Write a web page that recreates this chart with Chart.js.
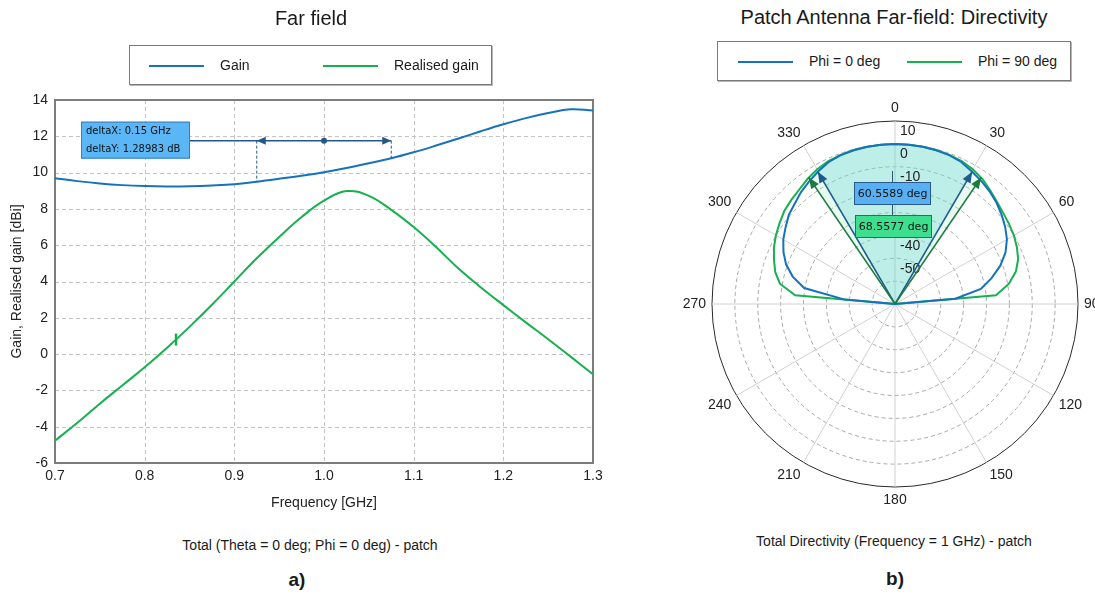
<!DOCTYPE html>
<html>

<head>
    <meta charset="utf-8">
    <title>Far field</title>
    <script src="https://cdn.jsdelivr.net/npm/chart.js"></script>
    <style>
        body {
            margin: 0;
            width: 1095px;
            height: 596px;
            position: relative;
            overflow: hidden;
            background: #fff;
            font-family: 'Liberation Sans', Arial, sans-serif;
            color: #1a1a1a;
        }

        canvas { position: absolute; }

        .title {
            position: absolute;
            width: 400px;
            text-align: center;
            font-size: 20px;
            line-height: 24px;
        }

        .legend {
            position: absolute;
            height: 40px;
            box-sizing: border-box;
            border: 1px solid #7a7a7a;
            box-shadow: 1px 1px 0 #b5b5b5;
            background: #fff;
            font-size: 14px;
        }

        .legend span { position: absolute; top: 11px; line-height: 16px; white-space: nowrap; }
        .legend i { position: absolute; top: 19px; width: 55px; height: 2px; }

        .caption {
            position: absolute;
            width: 500px;
            text-align: center;
            font-size: 14px;
            line-height: 18px;
        }

        .tag {
            position: absolute;
            width: 60px;
            text-align: center;
            font-size: 19px;
            font-weight: bold;
            line-height: 22px;
        }
    </style>
</head>

<body>
    <canvas id="gainChart" width="610" height="520" style="left:0;top:0"></canvas>
    <canvas id="polarChart" width="425" height="430" style="left:670px;top:90px"></canvas>

    <div class="title" style="left:111px;top:6px">Far field</div>
    <div class="legend" style="left:129px;top:45px;width:363px">
        <i style="left:19px;background:#1672bd"></i><span style="left:90px">Gain</span>
        <i style="left:193px;background:#17b04f"></i><span style="left:264px">Realised gain</span>
    </div>
    <div class="caption" style="left:60px;top:536px">Total (Theta = 0 deg; Phi = 0 deg) - patch</div>
    <div class="tag" style="left:267px;top:569px">a)</div>

    <div class="title" style="left:694px;top:5px">Patch Antenna Far-field: Directivity</div>
    <div class="legend" style="left:717px;top:41px;width:354px">
        <i style="left:20px;background:#1672bd"></i><span style="left:91px">Phi = 0 deg</span>
        <i style="left:189px;background:#17b04f"></i><span style="left:260px">Phi = 90 deg</span>
    </div>
    <div class="caption" style="left:644px;top:532px">Total Directivity (Frequency = 1 GHz) - patch</div>
    <div class="tag" style="left:865px;top:568px">b)</div>

    <script type="text/javascript">
        // gain sweep (GHz, dBi)
        const freq = [
            0.700, 0.725, 0.750, 0.775, 0.800, 0.825, 0.850, 0.875, 0.900, 0.925, 0.950, 0.975, 1.000,
            1.025, 1.050, 1.075, 1.100, 1.125, 1.150, 1.175, 1.200, 1.225, 1.250, 1.275, 1.300
        ];
        const gain = [
            9.69, 9.53, 9.40, 9.31, 9.26, 9.24, 9.25, 9.29, 9.36, 9.50, 9.66, 9.83, 10.02,
            10.25, 10.52, 10.79, 11.12, 11.49, 11.88, 12.28, 12.66, 13.00, 13.28, 13.49, 13.42
        ];
        const realised = [
            -4.77, -3.78, -2.73, -1.73, -0.73, 0.35, 1.50, 2.72, 4.00, 5.28, 6.45, 7.55, 8.45,
            8.98, 8.72, 7.95, 7.00, 5.90, 4.71, 3.67, 2.70, 1.75, 0.82, -0.14, -1.11
        ];

        // delta markup between two gain points
        const deltaFreq = [0.925, 1.075];
        const deltaLevel = 11.76;
        const deltaCentre = 1.0;
        const deltaText = ['deltaX: 0.15 GHz', 'deltaY: 1.28983 dB'];

        // marker on realised gain curve
        const markFreq = 0.835;
        const markValue = 0.8;

        // directivity cuts at 1 GHz, theta every 5 deg clockwise from 0 (dBi)
        const thetaDeg = Array.from({ length: 72 }, (_, i) => i * 5);
        const dirPhi0 = [
            9.9, 9.9, 9.8, 9.6, 9.3, 8.5, 7.0, 5.7, 4.3, 2.7, 0.8, -1.2,
            -3.5, -6.7, -11.0, -16.3, -21.9, -33.5, -60, -60, -60, -60, -60, -60,
            -60, -60, -60, -60, -60, -60, -60, -60, -60, -60, -60, -60,
            -60, -60, -60, -60, -60, -60, -60, -60, -60, -60, -60, -60,
            -60, -60, -60, -60, -60, -60, -60, -38, -19.7, -13.7, -9.3, -6.2,
            -3.6, -1.6, 0.6, 2.0, 3.9, 5.4, 7.0, 8.5, 9.3, 9.6, 9.8, 9.9
        ];
        const dirPhi90 = [
            9.9, 9.9, 9.8, 9.7, 9.4, 8.9, 8.0, 6.7, 4.8, 3.1, 1.8, 0.9,
            0.0, -1.2, -2.7, -5.3, -9.5, -15.7, -60, -60, -60, -60, -60, -60,
            -60, -60, -60, -60, -60, -60, -60, -60, -60, -60, -60, -60,
            -60, -60, -60, -60, -60, -60, -60, -60, -60, -60, -60, -60,
            -60, -60, -60, -60, -60, -60, -60, -16.2, -8.9, -5.8, -3.7, -1.6,
            0.1, 1.6, 3.2, 4.2, 5.2, 6.7, 8.0, 8.9, 9.4, 9.7, 9.8, 9.9
        ];
        const radialTicks = [10, 0, -10, -20, -30, -40, -50];

        // 3 dB beamwidths
        const beamWidth = [60.5589, 68.5577];
        const beamText = ['60.5589 deg', '68.5577 deg'];

        const BLUE = '#1672bd';
        const GREEN = '#17b04f';

        Chart.defaults.font.family = "'Liberation Sans', Arial, sans-serif";
        Chart.defaults.font.size = 14;
        Chart.defaults.color = '#222';
        Chart.defaults.animation = false;

        function arrowHead(ctx, x0, y0, x1, y1, len, half) {
            const a = Math.atan2(y1 - y0, x1 - x0);
            const bx = x1 - len * Math.cos(a), by = y1 - len * Math.sin(a);
            ctx.beginPath();
            ctx.moveTo(x1, y1);
            ctx.lineTo(bx + half * Math.sin(a), by - half * Math.cos(a));
            ctx.lineTo(bx - half * Math.sin(a), by + half * Math.cos(a));
            ctx.closePath();
            ctx.fill();
        }

        function textBox(ctx, x, y, w, h, fill, stroke, lines, font, pad) {
            ctx.fillStyle = fill;
            ctx.fillRect(x, y, w, h);
            ctx.strokeStyle = stroke;
            ctx.lineWidth = 1;
            ctx.strokeRect(x + 0.5, y + 0.5, w - 1, h - 1);
            ctx.fillStyle = '#111';
            ctx.font = font;
            ctx.textBaseline = 'middle';
            ctx.textAlign = pad == null ? 'center' : 'left';
            const step = h / lines.length;
            lines.forEach((t, i) => {
                ctx.fillText(t, pad == null ? x + w / 2 : x + pad, y + step * (i + 0.5) + 0.5);
            });
        }

        const gainMarkup = {
            id: 'gainMarkup',
            beforeDatasetsDraw(chart) {
                const { ctx, chartArea: a } = chart;
                const x = chart.scales.x, y = chart.scales.y;
                ctx.save();
                // dashed grid on the tick positions
                ctx.strokeStyle = '#c4c4c4';
                ctx.lineWidth = 1;
                ctx.setLineDash([4, 3]);
                x.ticks.forEach((t, i) => {
                    const px = Math.round(x.getPixelForTick(i)) + 0.5;
                    ctx.beginPath();
                    ctx.moveTo(px, a.top);
                    ctx.lineTo(px, a.bottom);
                    ctx.stroke();
                });
                y.ticks.forEach((t, i) => {
                    const py = Math.round(y.getPixelForTick(i)) + 0.5;
                    ctx.beginPath();
                    ctx.moveTo(a.left, py);
                    ctx.lineTo(a.right, py);
                    ctx.stroke();
                });
                ctx.setLineDash([]);
                ctx.strokeStyle = '#7d7d7d';
                ctx.lineWidth = 2;
                ctx.strokeRect(a.left, a.top, a.width, a.height);
                ctx.restore();
            },
            afterDatasetsDraw(chart) {
                const { ctx } = chart;
                const x = chart.scales.x, y = chart.scales.y;
                const xa = x.getPixelForValue(deltaFreq[0]);
                const xb = x.getPixelForValue(deltaFreq[1]);
                const yl = y.getPixelForValue(deltaLevel);
                const navy = '#24578a';

                ctx.save();
                // drop lines to the curve
                ctx.strokeStyle = navy;
                ctx.lineWidth = 1;
                ctx.setLineDash([3, 2]);
                deltaFreq.forEach((f, i) => {
                    const px = i === 0 ? xa : xb;
                    const k = freq.findIndex(v => Math.abs(v - f) < 1e-9);
                    ctx.beginPath();
                    ctx.moveTo(px, yl);
                    ctx.lineTo(px, y.getPixelForValue(gain[k]));
                    ctx.stroke();
                });
                ctx.setLineDash([]);

                const bx = x.getPixelForValue(0.7) + 26, by = yl - 19;
                ctx.lineWidth = 1.5;
                ctx.beginPath();
                ctx.moveTo(bx + 109, yl);
                ctx.lineTo(xb, yl);
                ctx.stroke();
                ctx.fillStyle = navy;
                arrowHead(ctx, xa + 20, yl, xa, yl, 9, 4);
                arrowHead(ctx, xb - 20, yl, xb, yl, 9, 4);
                ctx.beginPath();
                ctx.arc(x.getPixelForValue(deltaCentre), yl, 3, 0, Math.PI * 2);
                ctx.fill();

                textBox(ctx, bx, by, 109, 37, '#5ab6f5', '#3a7cbc', deltaText, "10px 'DejaVu Sans'", 5);
                ctx.restore();
            }
        };

        const noGrid = { display: false, drawTicks: false };

        new Chart(document.getElementById('gainChart'), {
            type: 'line',
            data: {
                datasets: [{
                        label: 'Gain',
                        data: freq.map((f, i) => ({ x: f, y: gain[i] })),
                        borderColor: BLUE,
                        borderWidth: 2,
                        pointRadius: 0,
                        tension: 0.4
                    },
                    {
                        label: 'Realised gain',
                        data: freq.map((f, i) => ({ x: f, y: realised[i] })),
                        borderColor: GREEN,
                        borderWidth: 2,
                        pointRadius: 0,
                        tension: 0.4
                    },
                    {
                        label: 'Marker',
                        data: [{ x: markFreq, y: markValue }],
                        showLine: false,
                        pointStyle: 'line',
                        pointRotation: 90,
                        pointRadius: 6,
                        pointBorderWidth: 2.5,
                        pointBorderColor: GREEN,
                        borderColor: GREEN
                    },
                ]
            },
            options: {
                responsive: false,
                layout: { padding: { top: 100, right: 17, left: 0, bottom: 0 } },
                plugins: { legend: { display: false }, tooltip: { enabled: false } },
                scales: {
                    x: {
                        type: 'linear',
                        min: 0.7,
                        max: 1.3,
                        afterFit: s => { s.height = 57; },
                        ticks: { stepSize: 0.1, padding: 5, callback: v => v.toFixed(1) },
                        grid: noGrid,
                        border: { display: false },
                        title: { display: true, text: 'Frequency [GHz]', padding: { top: 0, bottom: 8 } }
                    },
                    y: {
                        min: -6,
                        max: 14,
                        afterFit: s => { s.width = 55; },
                        ticks: { stepSize: 2, padding: 7 },
                        grid: noGrid,
                        border: { display: false },
                        title: { display: true, text: 'Gain, Realised gain [dBi]', padding: { top: 9, bottom: 0 } }
                    }
                }
            },
            plugins: [gainMarkup]
        });

        // ---- polar directivity ----
        function polarPoint(scale, deg, value) {
            const a = deg * Math.PI / 180 - Math.PI / 2;
            const d = scale.getDistanceFromCenterForValue(value);
            return { x: scale.xCenter + Math.cos(a) * d, y: scale.yCenter + Math.sin(a) * d };
        }

        const beamSeries = [dirPhi0, dirPhi90];
        const beamFill = ['rgba(90, 210, 215, 0.30)', 'rgba(150, 235, 185, 0.22)'];
        const beamArrow = ['#1d5a8e', '#1d7a41'];
        const beamBox = [['#57b0f2', '#2b5a8a'], ['#3ddf8e', '#1f7a45']];

        const polarMarkup = {
            id: 'polarMarkup',
            beforeDatasetsDraw(chart) {
                const { ctx } = chart;
                const r = chart.scales.r;
                ctx.save();
                // beam sectors, wider one first
                [1, 0].forEach(k => {
                    const data = beamSeries[k];
                    const hw = beamWidth[k] / 2;
                    const edge = data[0] - 3;
                    const inside = thetaDeg
                        .map((t, i) => ({ s: t > 180 ? t - 360 : t, i }))
                        .filter(p => Math.abs(p.s) < hw)
                        .sort((p, q) => p.s - q.s);
                    ctx.beginPath();
                    ctx.moveTo(r.xCenter, r.yCenter);
                    let p = polarPoint(r, -hw, edge);
                    ctx.lineTo(p.x, p.y);
                    inside.forEach(q => {
                        const pt = r.getPointPositionForValue(q.i, data[q.i]);
                        ctx.lineTo(pt.x, pt.y);
                    });
                    p = polarPoint(r, hw, edge);
                    ctx.lineTo(p.x, p.y);
                    ctx.closePath();
                    ctx.fillStyle = beamFill[k];
                    ctx.fill();
                });

                // radial tick labels
                ctx.fillStyle = '#222';
                ctx.font = "14px 'Liberation Sans', Arial, sans-serif";
                ctx.textAlign = 'left';
                ctx.textBaseline = 'middle';
                radialTicks.forEach(v => {
                    ctx.fillText(String(v), r.xCenter + 5, r.yCenter - r.getDistanceFromCenterForValue(v + 5) - 1);
                });
                ctx.restore();
            },
            afterDatasetsDraw(chart) {
                const { ctx } = chart;
                const r = chart.scales.r;
                const cx = r.xCenter, cy = r.yCenter;
                ctx.save();
                [0, 1].forEach(k => {
                    const hw = beamWidth[k] / 2;
                    const edge = beamSeries[k][0] - 3;
                    ctx.strokeStyle = beamArrow[k];
                    ctx.fillStyle = beamArrow[k];
                    ctx.lineWidth = 1.5;
                    [-hw, hw].forEach(deg => {
                        const p = polarPoint(r, deg, edge);
                        ctx.beginPath();
                        ctx.moveTo(cx, cy);
                        ctx.lineTo(p.x, p.y);
                        ctx.stroke();
                        arrowHead(ctx, cx, cy, p.x, p.y, 11, 4.5);
                    });
                });

                // leader from the labels up to the pattern
                ctx.strokeStyle = '#2d5670';
                ctx.lineWidth = 1;
                ctx.beginPath();
                ctx.moveTo(cx - 2.5, cy - 133);
                ctx.lineTo(cx - 2.5, cy - 89);
                ctx.stroke();

                textBox(ctx, cx - 41, cy - 122, 77, 23, beamBox[0][0], beamBox[0][1], [beamText[0]], "11px 'DejaVu Sans'");
                textBox(ctx, cx - 40, cy - 89, 77, 23, beamBox[1][0], beamBox[1][1], [beamText[1]], "11px 'DejaVu Sans'");
                ctx.restore();
            },
            afterDraw(chart) {
                const { ctx } = chart;
                const r = chart.scales.r;
                ctx.save();
                ctx.fillStyle = '#222';
                ctx.font = "14px 'Liberation Sans', Arial, sans-serif";
                thetaDeg.forEach((deg, i) => {
                    if (deg % 30 !== 0) return;
                    const p = r.getPointPosition(i, r.drawingArea + 6);
                    ctx.textAlign = deg === 0 || deg === 180 ? 'center' : deg < 180 ? 'left' : 'right';
                    ctx.textBaseline = deg === 90 || deg === 270 ? 'middle' : (deg < 90 || deg > 270) ? 'bottom' : 'top';
                    ctx.fillText(String(deg), p.x, p.y);
                });
                ctx.restore();
            }
        };

        new Chart(document.getElementById('polarChart'), {
            type: 'radar',
            data: {
                labels: thetaDeg,
                datasets: [{
                        label: 'Phi = 0 deg',
                        data: dirPhi0,
                        borderColor: BLUE,
                        borderWidth: 2,
                        fill: false,
                        pointRadius: 0,
                        tension: 0
                    },
                    {
                        label: 'Phi = 90 deg',
                        data: dirPhi90,
                        borderColor: GREEN,
                        borderWidth: 2,
                        fill: false,
                        pointRadius: 0,
                        tension: 0
                    }
                ]
            },
            options: {
                responsive: false,
                layout: { padding: { left: 42, right: 16, top: 31, bottom: 32 } },
                plugins: { legend: { display: false }, tooltip: { enabled: false } },
                scales: {
                    r: {
                        min: -60,
                        max: 20,
                        ticks: { display: false, stepSize: 10 },
                        pointLabels: { display: false },
                        grid: {
                            circular: true,
                            color: c => c.tick && c.tick.value === 20 ? '#2a2a2a' : '#a8a8a8'
                        },
                        border: { dash: c => c.tick && c.tick.value === 20 ? [] : [4, 3] },
                        angleLines: { color: '#d0d0d0', lineWidth: c => c.index % 6 === 0 ? 1 : 0 }
                    }
                }
            },
            plugins: [polarMarkup]
        });
    </script>
</body>

</html>
